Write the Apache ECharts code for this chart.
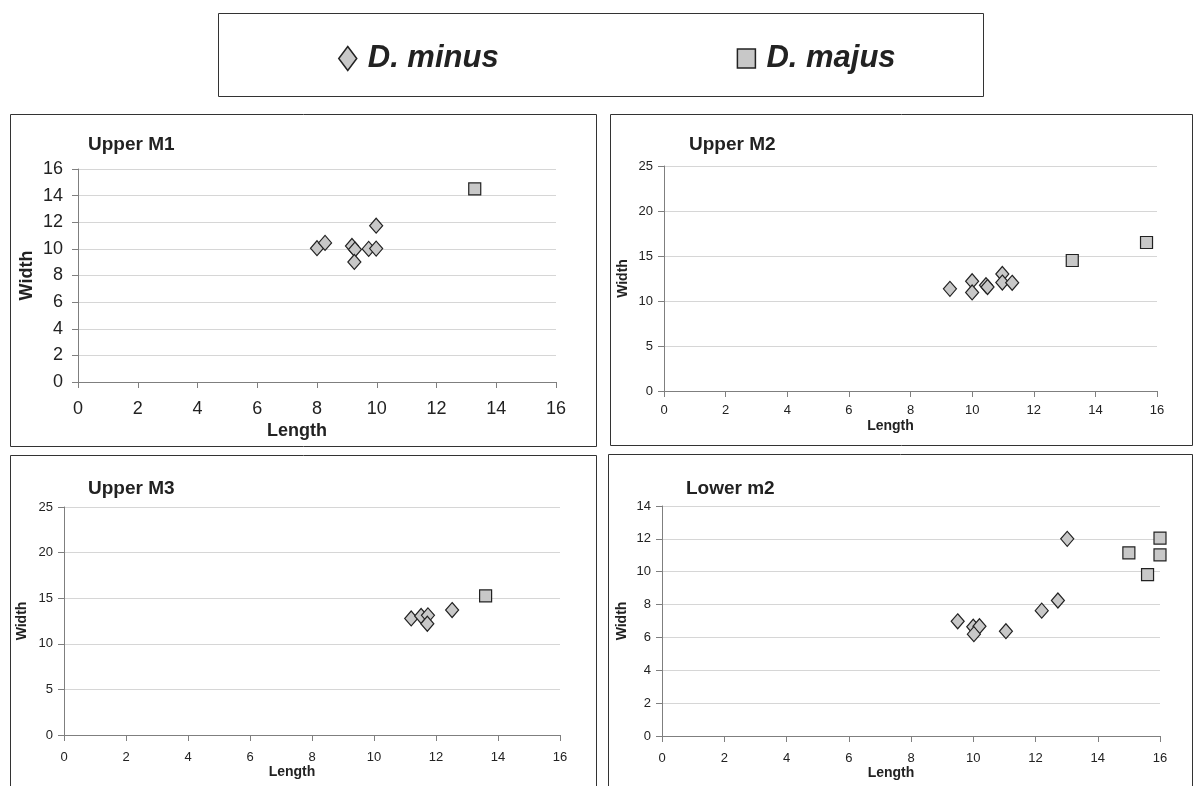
<!DOCTYPE html>
<html>
<head>
<meta charset="utf-8">
<script src="https://cdn.jsdelivr.net/npm/echarts@6/dist/echarts.min.js"></script>
<style>
  html, body { margin: 0; padding: 0; background: #fff; }
  #chart { width: 1195px; height: 786px; }
</style>
</head>
<body>
<div id="chart"></div>
<script>
// [length, width] pairs
const m1Minus = [[8, 10.05], [8.27, 10.45], [9.17, 10.22], [9.27, 9.95], [9.25, 9.02], [9.73, 10], [9.98, 10.02], [9.98, 11.74]];
const m1Majus = [[13.28, 14.5]];

const m2Minus = [[9.28, 11.35], [10, 12.2], [10, 10.95], [10.45, 11.75], [10.5, 11.55], [10.98, 13], [10.98, 12.05], [11.3, 12.02]];
const m2Majus = [[13.25, 14.5], [15.66, 16.5]];

const m3Minus = [[11.2, 12.78], [11.52, 13.05], [11.74, 13.12], [11.72, 12.2], [12.52, 13.7]];
const m3Majus = [[13.6, 15.25]];

const lm2Minus = [[9.5, 6.98], [10, 6.65], [10.2, 6.68], [10.02, 6.2], [11.05, 6.38], [12.2, 7.63], [12.72, 8.25], [13.02, 12]];
const lm2Majus = [[15, 11.15], [16, 12.05], [16, 11.02], [15.6, 9.82]];

const panelTitles = ['Upper M1', 'Upper M2', 'Upper M3', 'Lower m2'];
const yMax = [16, 25, 25, 14];
const yStep = [2, 5, 5, 2];

const chart = echarts.init(document.getElementById('chart'));

const fontFamily = '"Liberation Sans", Arial, sans-serif';
const fill = '#c8c8c8';
const edge = '#222';

const grids = [
  { left: 78, right: 639, top: 169, bottom: 404 },
  { left: 664, right: 38, top: 166, bottom: 395 },
  { left: 64, right: 635, top: 507, bottom: 51 },
  { left: 662, right: 35, top: 506, bottom: 50 }
];
const tickFont = [18, 13, 13, 13];
const nameFont = [18, 14, 14, 14];
const xMargin = [18, 13, 16, 16];
const yMargin = [15, 11, 11, 11];
const xGap = [40, 28, 28, 29];
const yGap = [42, 34, 35, 33];

function xAxis(i) {
  return {
    type: 'value', gridIndex: i, min: 0, max: 16, interval: 2,
    name: 'Length', nameLocation: 'middle', nameGap: xGap[i],
    nameTextStyle: { fontFamily, fontWeight: 'bold', fontSize: nameFont[i], color: '#222', padding: [0, 40, 0, 0] },
    axisLine: { show: true, lineStyle: { color: '#7f7f7f', width: 1 } },
    axisTick: { show: true, length: 6, lineStyle: { color: '#7f7f7f' } },
    axisLabel: { fontFamily, fontSize: tickFont[i], color: '#222', margin: xMargin[i] },
    splitLine: { show: false }
  };
}
function yAxis(i) {
  return {
    type: 'value', gridIndex: i, min: 0, max: yMax[i], interval: yStep[i],
    name: 'Width', nameLocation: 'middle', nameGap: yGap[i],
    nameTextStyle: { fontFamily, fontWeight: 'bold', fontSize: nameFont[i], color: '#222' },
    axisLine: { show: true, lineStyle: { color: '#7f7f7f', width: 1 } },
    axisTick: { show: true, length: 6, lineStyle: { color: '#7f7f7f' } },
    axisLabel: { fontFamily, fontSize: tickFont[i], color: '#222', margin: yMargin[i] },
    splitLine: { show: true, lineStyle: { color: '#d6d6d6', width: 1 } }
  };
}

const minusSets = [m1Minus, m2Minus, m3Minus, lm2Minus];
const majusSets = [m1Majus, m2Majus, m3Majus, lm2Majus];
const series = [];
for (let i = 0; i < 4; i++) {
  series.push({
    name: 'D. minus', type: 'scatter', xAxisIndex: i, yAxisIndex: i,
    symbol: 'diamond', symbolSize: [13, 15],
    itemStyle: { color: fill, borderColor: edge, borderWidth: 1.2, opacity: 1 },
    data: minusSets[i]
  });
  series.push({
    name: 'D. majus', type: 'scatter', xAxisIndex: i, yAxisIndex: i,
    symbol: 'rect', symbolSize: 12,
    itemStyle: { color: fill, borderColor: edge, borderWidth: 1.2, opacity: 1 },
    data: majusSets[i]
  });
}

const titlePos = [[88, 135], [689, 135], [88, 479], [686, 479]];

const option = {
  animation: false,
  backgroundColor: '#fff',
  title: panelTitles.map((t, i) => ({
    text: t, left: titlePos[i][0], top: titlePos[i][1], padding: 0,
    textStyle: { fontFamily, fontWeight: 'bold', fontSize: 19, color: '#222' }
  })),
  legend: {
    left: 338, top: 43, itemGap: 238, itemWidth: 18, itemHeight: 24, padding: 0,
    data: [
      { name: 'D. minus', icon: 'path://M9,0 L18,12 L9,24 L0,12 Z' },
      { name: 'D. majus', icon: 'path://M0,0 L18,0 L18,19 L0,19 Z' }
    ],
    itemStyle: { borderWidth: 1.5, borderColor: edge, color: fill },
    textStyle: { fontFamily, fontWeight: 'bold', fontStyle: 'italic', fontSize: 31, color: '#222', padding: [0, 0, 0, 6] }
  },
  grid: grids,
  xAxis: [0, 1, 2, 3].map(xAxis),
  yAxis: [0, 1, 2, 3].map(yAxis),
  series,
  graphic: [
    { type: 'rect', shape: { x: 218.5, y: 13.5, width: 765, height: 83 }, style: { fill: 'none', stroke: '#333', lineWidth: 1 }, silent: true },
    { type: 'rect', shape: { x: 10.5, y: 114.5, width: 586, height: 332 }, style: { fill: 'none', stroke: '#333', lineWidth: 1 }, silent: true },
    { type: 'rect', shape: { x: 610.5, y: 114.5, width: 582, height: 331 }, style: { fill: 'none', stroke: '#333', lineWidth: 1 }, silent: true },
    { type: 'rect', shape: { x: 10.5, y: 455.5, width: 586, height: 340 }, style: { fill: 'none', stroke: '#333', lineWidth: 1 }, silent: true },
    { type: 'rect', shape: { x: 608.5, y: 454.5, width: 584, height: 340 }, style: { fill: 'none', stroke: '#333', lineWidth: 1 }, silent: true }
  ]
};

chart.setOption(option);
</script>
</body>
</html>
